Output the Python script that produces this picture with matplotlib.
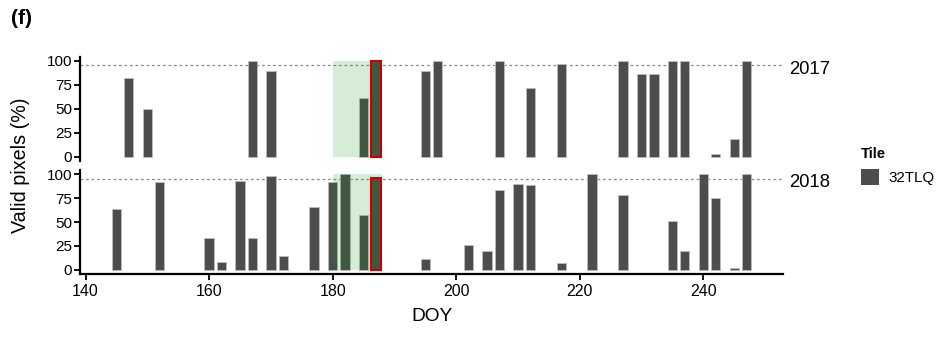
import matplotlib
matplotlib.use("Agg")
import matplotlib.pyplot as plt
from matplotlib.patches import Rectangle, Patch

plt.rcParams['font.family'] = ['Liberation Sans', 'DejaVu Sans']

# valid pixel share per acquisition date (day of year), tile 32TLQ
doy_2017 = [147, 150, 167, 170, 185, 187, 195, 197, 207, 212, 217, 227,
            230, 232, 235, 237, 242, 245, 247]
valid_2017 = [82, 50, 100, 89, 61, 100, 89, 100, 100, 72, 97, 100,
              86, 86, 100, 100, 3, 19, 100]

doy_2018 = [145, 152, 160, 162, 165, 167, 170, 172, 177, 180, 182, 185,
            187, 195, 202, 205, 207, 210, 212, 217, 222, 227, 235, 237,
            240, 242, 245, 247]
valid_2018 = [64, 92, 33, 8, 93, 33, 98, 15, 66, 92, 100, 57,
              96, 11, 26, 20, 83, 90, 89, 7, 100, 78, 51, 20,
              100, 75, 2, 100]

years = ['2017', '2018']
doys = [doy_2017, doy_2018]
values = [valid_2017, valid_2018]

window = (180, 188)      # highlighted period
selected_doy = 187       # selected scene
threshold = 95

bar_color = '#4d4d4d'
W, H = 946, 338
fig = plt.figure(figsize=(W / 100, H / 100), dpi=100)

left, right = 80 / W, 783 / W
panels = [(56.5, 161), (170, 274)]
axes = []
for (top, bot) in panels:
    ax = fig.add_axes([left, 1 - bot / H, right - left, (bot - top) / H])
    axes.append(ax)

for i, ax in enumerate(axes):
    x, y = doys[i], values[i]
    ax.bar(x, y, width=1.5, color=bar_color, edgecolor='#bdbdbd',
           linewidth=0.6, zorder=2)
    ax.add_patch(Rectangle((window[0], 0), window[1] - window[0], 100,
                           color='#008c00', alpha=0.16, lw=0, zorder=3))
    ax.axhline(threshold, color='#8c8c8c', lw=0.9, ls=(0, (2.2, 2.2)), zorder=1)
    # the selected scene gets a red frame
    k = x.index(selected_doy)
    ax.add_patch(Rectangle((selected_doy - 0.75, 0), 1.5, y[k], fill=False,
                           edgecolor='#cc0000', lw=1.5, zorder=4))
    ax.set_xlim(139.1, 252.9)
    ax.set_ylim(-4.3, 104.3)
    ax.set_yticks([0, 25, 50, 75, 100])
    ax.tick_params(axis='y', labelsize=11, length=4, width=1.3, pad=1.5)
    for s in ['top', 'right']:
        ax.spines[s].set_visible(False)
    ax.spines['left'].set_linewidth(1.6)
    ax.spines['bottom'].set_linewidth(1.6)
    ax.text(1.009, 91, years[i], transform=ax.get_yaxis_transform(),
            fontsize=13.3, va='center', ha='left', clip_on=False)

axes[0].spines['bottom'].set_visible(False)
axes[0].set_xticks([])
axes[1].set_xticks([140, 160, 180, 200, 220, 240])
axes[1].tick_params(axis='x', labelsize=11.5, length=4.5, width=1.3, pad=3)
axes[1].set_xlabel('DOY', fontsize=13.8, labelpad=6)

fig.text(21 / W, 1 - 165 / H, 'Valid pixels (%)', rotation=90, fontsize=14.2,
         va='center', ha='center')
fig.text(11 / W, 1 - 19 / H, '(f)', fontsize=15, fontweight='bold',
         va='center', ha='left')

fig.legend(handles=[Patch(facecolor=bar_color)], labels=['32TLQ'], title='Tile',
           loc='upper left', bbox_to_anchor=(849 / W, 1 - 135 / H),
           frameon=False, fontsize=10.9, title_fontproperties={'weight': 'bold', 'size': 10.7},
           handlelength=1.2, handleheight=1.3, handletextpad=0.6,
           alignment='left', borderpad=0.3)

fig.savefig('out.png', dpi=100)
